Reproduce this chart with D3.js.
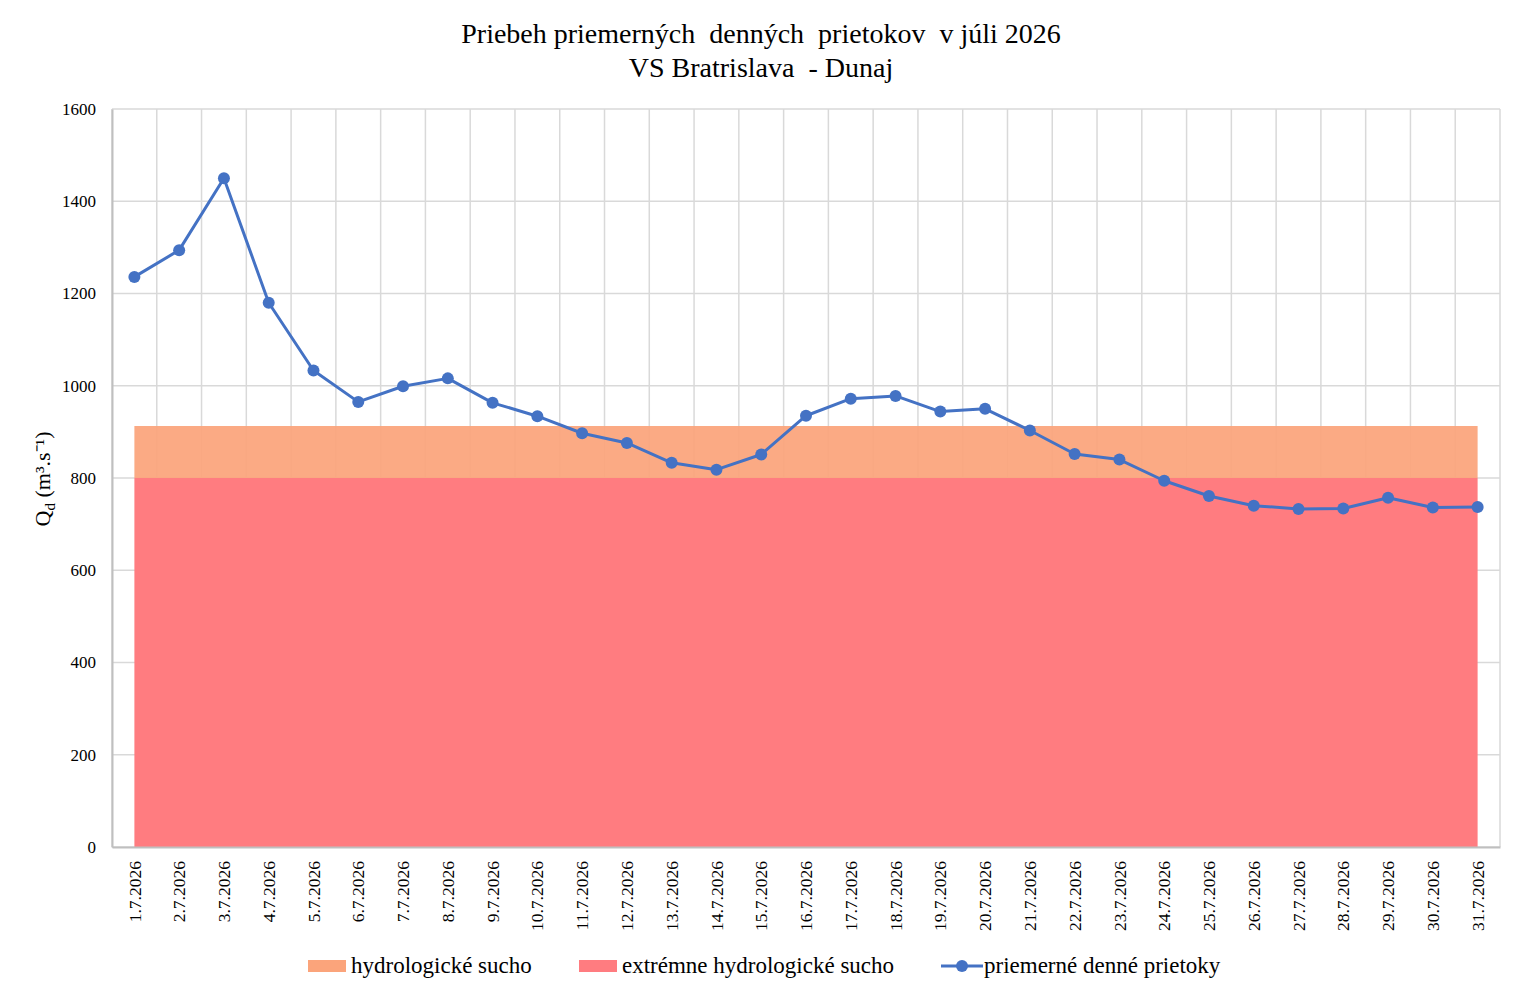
<!DOCTYPE html>
<html>
<head>
<meta charset="utf-8">
<script src="https://cdn.jsdelivr.net/npm/d3@7"></script>
<style>
  body { margin: 0; background: #fff; }
  text { font-family: "Liberation Serif", "Times New Roman", serif; fill: #000; }
</style>
</head>
<body>
<div id="chart"></div>
<script>
// Days of July 2026
const days = ["1.7.2026","2.7.2026","3.7.2026","4.7.2026","5.7.2026","6.7.2026","7.7.2026","8.7.2026",
  "9.7.2026","10.7.2026","11.7.2026","12.7.2026","13.7.2026","14.7.2026","15.7.2026","16.7.2026",
  "17.7.2026","18.7.2026","19.7.2026","20.7.2026","21.7.2026","22.7.2026","23.7.2026","24.7.2026",
  "25.7.2026","26.7.2026","27.7.2026","28.7.2026","29.7.2026","30.7.2026","31.7.2026"];

// mean daily discharge (m3/s)
const flows = [1236, 1294, 1450, 1180, 1033, 965, 999, 1016, 963, 934, 897, 876, 833, 818, 851, 935,
  972, 978, 944, 950, 903, 852, 840, 794, 761, 740, 733, 734, 757, 736, 737];

// drought thresholds
const droughtLimit = days.map(() => 913);
const extremeLimit = days.map(() => 800);

const yTicks = [0, 200, 400, 600, 800, 1000, 1200, 1400, 1600];

const width = 1522, height = 998;
const margin = { top: 109, right: 22, bottom: 151, left: 112 };
const innerW = width - margin.left - margin.right;
const innerH = height - margin.top - margin.bottom;
const serif = "Liberation Serif, Times New Roman, serif";

const svg = d3.select("#chart").append("svg")
  .attr("width", width).attr("height", height);

// Title (two lines)
svg.append("text")
  .attr("x", 761).attr("y", 43)
  .attr("text-anchor", "middle")
  .style("font-size", "28px")
  .style("white-space", "pre")
  .text("Priebeh priemerných  denných  prietokov  v júli 2026");
svg.append("text")
  .attr("x", 761).attr("y", 77)
  .attr("text-anchor", "middle")
  .style("font-size", "28px")
  .style("white-space", "pre")
  .text("VS Bratrislava  - Dunaj");

const g = svg.append("g").attr("transform", `translate(${margin.left},${margin.top})`);

const xBand = d3.scaleBand().domain(days).range([0, innerW]);
const x = d => xBand(d) + xBand.bandwidth() / 2;
const y = d3.scaleLinear().domain([0, 1600]).range([innerH, 0]);

// gridlines
g.selectAll(".hgrid").data(yTicks).join("line")
  .attr("x1", 0).attr("x2", innerW)
  .attr("y1", d => y(d)).attr("y2", d => y(d))
  .attr("stroke", "#d9d9d9").attr("stroke-width", 1.5);

const vLines = days.map(d => xBand(d)).concat([innerW]);
g.selectAll(".vgrid").data(vLines).join("line")
  .attr("x1", d => d).attr("x2", d => d)
  .attr("y1", 0).attr("y2", innerH)
  .attr("stroke", "#d9d9d9").attr("stroke-width", 1.5);

// drought areas
const areaOrange = d3.area()
  .x((d, i) => x(days[i]))
  .y0((d, i) => y(extremeLimit[i]))
  .y1(d => y(d));
const areaRed = d3.area()
  .x((d, i) => x(days[i]))
  .y0(y(0))
  .y1(d => y(d));

g.append("path").datum(droughtLimit)
  .attr("d", areaOrange)
  .attr("fill", "#fba47b").attr("fill-opacity", 0.93);
g.append("path").datum(extremeLimit)
  .attr("d", areaRed)
  .attr("fill", "#ff7c80");

// axes
const yAxis = g.append("g")
  .call(d3.axisLeft(y).tickValues(yTicks).tickFormat(d3.format("d")).tickSize(0).tickPadding(16))
  .attr("font-family", serif).attr("font-size", 17);
yAxis.select(".domain").attr("stroke", "#bfbfbf").attr("stroke-width", 2);
yAxis.selectAll("text").attr("fill", "#000");

const xAxis = g.append("g").attr("transform", `translate(0,${innerH})`)
  .call(d3.axisBottom(xBand).tickSize(0).tickPadding(0))
  .attr("font-family", serif).attr("font-size", 17.5);
xAxis.select(".domain").attr("stroke", "#bfbfbf").attr("stroke-width", 2);
xAxis.selectAll("text")
  .attr("fill", "#000")
  .attr("transform", "rotate(-90)")
  .attr("text-anchor", "end")
  .attr("x", -14).attr("y", 0).attr("dy", "0.35em");

// flow line
const line = d3.line().x((d, i) => x(days[i])).y(d => y(d));
g.append("path").datum(flows)
  .attr("d", line)
  .attr("fill", "none")
  .attr("stroke", "#4472c4").attr("stroke-width", 3)
  .attr("stroke-linejoin", "round");
g.selectAll(".dot").data(flows).join("circle")
  .attr("cx", (d, i) => x(days[i])).attr("cy", d => y(d))
  .attr("r", 6).attr("fill", "#4472c4");

// y axis title
const yTitle = svg.append("text")
  .attr("transform", "translate(50,479) rotate(-90)")
  .attr("text-anchor", "middle")
  .style("font-size", "22px");
yTitle.append("tspan").text("Q");
yTitle.append("tspan").attr("dy", 5).style("font-size", "15px").text("d");
yTitle.append("tspan").attr("dy", -5).text(" (m³.s⁻¹)");

// legend
const legend = svg.append("g").attr("transform", "translate(0,966)");
const legendItems = [
  { label: "hydrologické sucho", type: "rect", color: "#fba47b", x: 308 },
  { label: "extrémne hydrologické sucho", type: "rect", color: "#ff7c80", x: 579 },
  { label: "priemerné denné prietoky", type: "line", color: "#4472c4", x: 941 }
];
legendItems.forEach(it => {
  if (it.type === "rect") {
    legend.append("rect").attr("x", it.x).attr("y", -6).attr("width", 38).attr("height", 12).attr("fill", it.color);
  } else {
    legend.append("line").attr("x1", it.x).attr("x2", it.x + 42).attr("y1", 0).attr("y2", 0)
      .attr("stroke", it.color).attr("stroke-width", 3);
    legend.append("circle").attr("cx", it.x + 21).attr("cy", 0).attr("r", 6).attr("fill", it.color);
  }
  legend.append("text").attr("x", it.x + 43).attr("y", 7).style("font-size", "23px").text(it.label);
});
</script>
</body>
</html>
